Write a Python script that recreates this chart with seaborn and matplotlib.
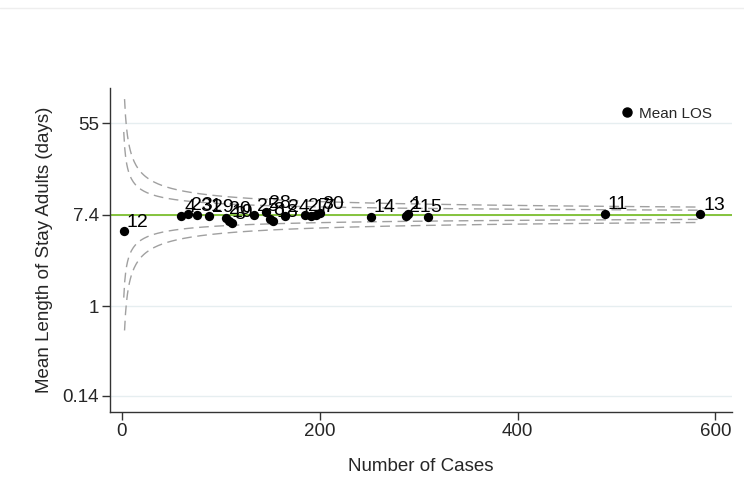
import numpy as np
import pandas as pd
import matplotlib
matplotlib.use("Agg")
import matplotlib.pyplot as plt
import seaborn as sns
from matplotlib.lines import Line2D

# ---- data ----
hospital = ["12", "4", "23", "31", "29", "20", "19", "3", "25", "28", "8", "18",
            "24", "2", "17", "7", "30", "14", "21", "1", "5", "11", "13"]
cases = [2, 60, 67, 76, 88, 105, 108, 111, 134, 146, 150, 153,
         165, 185, 191, 196, 200, 252, 287, 289, 309, 488, 585]
mean_los = [5.2, 7.2, 7.5, 7.35, 7.2, 6.9, 6.45, 6.2, 7.35, 7.8, 6.75, 6.45,
            7.2, 7.3, 7.2, 7.4, 7.7, 7.1, 7.2, 7.6, 7.1, 7.6, 7.5]
overall_mean = 7.4
ytick_vals = [55, 7.4, 1, 0.14]
ytick_labels = ["55", "7.4", "1", "0.14"]
xtick_vals = [0, 200, 400, 600]

# funnel control-limit parameters (log10 scale)
log_sd = 0.54
z_inner, z_outer = 1.96, 3.29

df = pd.DataFrame({"hospital": hospital, "cases": cases, "los": mean_los})

sns.set_theme(style="white")
plt.rcParams["font.family"] = ["Liberation Sans", "DejaVu Sans"]

fig = plt.figure(figsize=(7.44, 4.79), dpi=100)
ax = fig.add_axes([0.148, 0.140, 0.836, 0.676])

# gridlines at y ticks
for v in ytick_vals:
    ax.axhline(v, color="#e6eef0", lw=1.0, zorder=0)

# funnel limits
for z, n0 in ((z_inner, 1.8), (z_outer, 2.6)):
    n = np.linspace(n0, 585, 600)
    dev = z * log_sd / np.sqrt(n)
    for sgn in (1, -1):
        ax.plot(n, overall_mean * 10 ** (sgn * dev), color="#a0a0a0", lw=1.0,
                ls=(0, (7, 4)), zorder=1)

ax.axhline(overall_mean, color="#7cbf2f", lw=1.3, zorder=2)

sns.scatterplot(data=df, x="cases", y="los", ax=ax, color="black", s=45,
                edgecolor="black", linewidth=0, zorder=3, legend=False)

for h, x, y in zip(df["hospital"], df["cases"], df["los"]):
    ax.annotate(h, (x, y), xytext=(2, 3), textcoords="offset points",
                fontsize=14, color="black", zorder=4)

ax.set_yscale("log")
ax.set_ylim(0.098, 119)
ax.set_xlim(-12, 617)
ax.set_yticks(ytick_vals)
ax.set_yticklabels(ytick_labels)
ax.yaxis.set_minor_locator(matplotlib.ticker.NullLocator())
ax.set_xticks(xtick_vals)

ax.tick_params(axis="both", labelsize=13.5, length=6, width=1, color="#333333",
               direction="out", bottom=True, left=True, pad=2)
for side in ("top", "right"):
    ax.spines[side].set_visible(False)
for side in ("left", "bottom"):
    ax.spines[side].set_color("#333333")
    ax.spines[side].set_linewidth(1.0)

ax.set_xlabel("Number of Cases", fontsize=13.5, labelpad=13)
ax.set_ylabel("Mean Length of Stay Adults (days)", fontsize=13.5, labelpad=7)

handle = Line2D([], [], marker="o", color="black", ls="", markersize=6.5)
ax.legend([handle], ["Mean LOS"], loc="upper right", bbox_to_anchor=(0.99, 0.985),
          frameon=False, fontsize=11, handletextpad=0.2, handlelength=1.2)

fig.add_artist(Line2D([0, 1], [1 - 8 / 479, 1 - 8 / 479], color="#eeeeee", lw=1))

fig.savefig("out.png", dpi=100, facecolor="white")
